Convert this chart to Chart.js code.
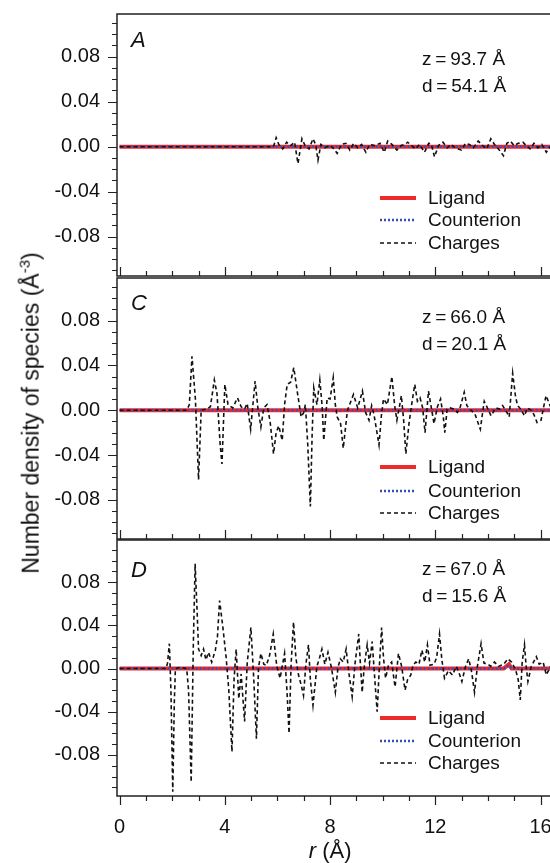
<!DOCTYPE html>
<html>
<head>
<meta charset="utf-8">
<script src="https://cdn.jsdelivr.net/npm/chart.js@4.4.0/dist/chart.umd.min.js"></script>
<style>
  html, body { margin: 0; padding: 0; background: #fff; }
  body { width: 550px; height: 863px; position: relative; overflow: hidden; font-family: "Liberation Sans", Arial, sans-serif; }
  .painel { position: absolute; left: 0; width: 550px; }
  #tituloY { position: absolute; left: 30px; top: 413px; transform: translate(-50%, -50%) rotate(-90deg);
             white-space: nowrap; font-size: 23px; color: #111; }
  #tituloY sup { font-size: 15px; }
</style>
</head>
<body>
<div class="painel" style="top:-6px"><canvas id="chartA" width="550" height="302"></canvas></div>
<div class="painel" style="top:258px"><canvas id="chartC" width="550" height="301"></canvas></div>
<div class="painel" style="top:520px"><canvas id="chartD" width="550" height="343"></canvas></div>
<div id="tituloY">Number density of species (Å<sup>-3</sup>)</div>

<script>
// ---------------- dados ----------------
var seriesNames = ['Ligand', 'Counterion', 'Charges'];
var xTickLabels = [0, 4, 8, 12, 16];
var yTickLabels = [-0.08, -0.04, 0.00, 0.04, 0.08];

// painel A  (z = 93.7 Å, d = 54.1 Å)
var rA = [0, 5.85, 5.95, 6.05, 6.2, 6.35, 6.5, 6.65, 6.78, 6.93, 7.05, 7.2, 7.35, 7.45, 7.54, 7.65, 7.8, 8.0, 8.15, 8.27,
  8.43, 8.6, 8.75, 8.9, 9.05, 9.2, 9.36, 9.5, 9.7, 9.9, 10.06, 10.19, 10.35, 10.54, 10.7, 10.85, 10.95, 11.1, 11.25, 11.4,
  11.59, 11.75, 11.85, 11.97, 12.12, 12.29, 12.45, 12.6, 12.75, 12.99, 13.15, 13.3, 13.45, 13.63, 13.8, 13.95, 14.11, 14.25,
  14.4, 14.59, 14.72, 14.85, 15.0, 15.15, 15.33, 15.45, 15.6, 15.75, 15.9, 16.05, 16.22, 16.4];
var chargesA = [0, 0, 0.008, 0.002, -0.002, 0.004, 0.001, 0.004, -0.015, 0.007, 0.001, -0.002, 0.007, 0.002, -0.012, 0.002, -0.001, 0.001, -0.002, -0.006,
  0.002, 0.003, -0.003, 0.003, -0.001, 0.002, -0.005, 0.002, 0.001, 0.003, -0.005, 0.005, 0.002, -0.003, 0.001, 0.002, 0.004, 0.001, -0.002, 0.002,
  -0.005, 0.003, 0.002, -0.009, 0.001, 0.004, -0.001, 0.002, -0.001, -0.003, 0.003, 0.002, -0.001, 0.005, 0.001, -0.002, 0.007, 0.002,
  -0.002, -0.008, 0.003, 0.005, 0.001, 0.003, 0.004, 0.001, -0.002, 0.003, -0.001, 0.002, -0.005, 0.001];
var rLigA = [0, 16.4];
var ligandA = [0, 0];
var counterionA = [0, 0];

// painel C  (z = 66.0 Å, d = 20.1 Å)
var rC = [0, 2.55, 2.65, 2.75, 2.88, 3.0, 3.1, 3.3, 3.45, 3.6, 3.7, 3.82, 3.89, 4.0, 4.12, 4.3, 4.48, 4.62, 4.75, 4.85,
  4.98, 5.15, 5.25, 5.37, 5.48, 5.6, 5.72, 5.85, 5.95, 6.05, 6.18, 6.27, 6.37, 6.5, 6.62, 6.75, 6.9, 7.0, 7.06, 7.15,
  7.25, 7.32, 7.38, 7.5, 7.61, 7.7, 7.76, 7.89, 8.0, 8.12, 8.2, 8.27, 8.4, 8.5, 8.66, 8.89, 9.05, 9.23, 9.35, 9.48,
  9.58, 9.67, 9.86, 9.95, 10.03, 10.18, 10.35, 10.45, 10.54, 10.65, 10.71, 10.8, 10.88, 11.0, 11.1, 11.22, 11.32, 11.42, 11.52, 11.61,
  11.74, 11.85, 11.95, 12.08, 12.2, 12.3, 12.36, 12.45, 12.56, 12.7, 12.84, 12.95, 13.1, 13.2, 13.35, 13.5, 13.71, 13.86, 14.0, 14.12,
  14.3, 14.45, 14.56, 14.72, 14.81, 14.94, 15.05, 15.13, 15.25, 15.39, 15.5, 15.64, 15.75, 15.87, 16.02, 16.12, 16.21, 16.4];
var chargesC = [0, 0, 0.005, 0.048, 0.01, -0.062, 0, 0.001, 0.003, 0.027, 0.015, -0.03, -0.048, 0.023, 0.005, 0.002, 0.011, 0.003, 0.001, 0.006,
  -0.017, 0.026, 0.003, -0.015, 0.002, 0.005, -0.01, -0.039, -0.02, -0.014, -0.027, 0.005, 0.023, 0.025, 0.038, 0.017, -0.006, -0.002, 0.005, -0.03,
  -0.086, -0.02, 0.02, 0.005, 0.027, 0.003, -0.027, 0.011, 0.01, 0.029, 0.005, -0.006, -0.012, -0.034, 0, 0.014, 0.002, 0.017, -0.002, -0.009,
  0.004, -0.004, -0.031, -0.005, 0.01, 0.005, 0.03, 0.005, -0.009, 0.005, 0.013, -0.01, -0.039, -0.012, 0.005, 0.023, 0.008, 0.011, 0.002, -0.02,
  0.017, 0.002, -0.012, 0.003, 0.01, -0.005, -0.02, 0.001, 0.002, 0.001, -0.002, 0.003, 0.016, 0.004, 0, -0.003, -0.017, 0.008, 0.001, -0.005,
  0.002, 0.001, 0.004, -0.002, -0.006, 0.033, 0.012, 0.004, 0.001, -0.005, 0.002, 0, -0.004, -0.011, -0.009, 0.003, 0.013, 0.002];
var rLigC = [0, 16.4];
var ligandC = [0, 0];
var counterionC = [0, 0];

// painel D  (z = 67.0 Å, d = 15.6 Å)
var rD = [0, 1.76, 1.82, 1.89, 1.95, 2.02, 2.08, 2.12, 2.3, 2.55, 2.62, 2.72, 2.8, 2.87, 2.95, 3.0, 3.1, 3.19, 3.28, 3.38,
  3.5, 3.64, 3.72, 3.8, 3.93, 4.05, 4.15, 4.27, 4.35, 4.43, 4.53, 4.62, 4.75, 4.85, 4.99, 5.1, 5.2, 5.28, 5.37, 5.48,
  5.58, 5.7, 5.84, 5.97, 6.1, 6.18, 6.27, 6.36, 6.44, 6.52, 6.61, 6.7, 6.8, 6.9, 6.99, 7.08, 7.18, 7.25, 7.35, 7.5,
  7.6, 7.69, 7.8, 7.92, 8.05, 8.2, 8.3, 8.39, 8.5, 8.61, 8.72, 8.84, 8.95, 9.09, 9.15, 9.22, 9.3, 9.41, 9.5, 9.6,
  9.7, 9.79, 9.88, 9.96, 10.03, 10.11, 10.22, 10.34, 10.47, 10.6, 10.72, 10.85, 10.95, 11.07, 11.15, 11.26, 11.38, 11.49, 11.6, 11.7,
  11.8, 11.95, 12.05, 12.16, 12.25, 12.35, 12.5, 12.65, 12.8, 12.9, 13.01, 13.15, 13.27, 13.38, 13.49, 13.6, 13.74, 13.85, 14.0, 14.1,
  14.25, 14.4, 14.6, 14.76, 14.9, 15.05, 15.15, 15.23, 15.3, 15.39, 15.45, 15.52, 15.65, 15.84, 15.95, 16.1, 16.22, 16.4];
var chargesD = [0, 0, 0.005, 0.023, -0.02, -0.114, -0.03, 0, 0.001, 0, -0.02, -0.105, 0.02, 0.097, 0.05, 0.018, 0.012, 0.018, 0.008, 0.015,
  0.006, 0.017, 0.03, 0.063, 0.037, 0.01, -0.02, -0.077, -0.01, 0.018, -0.028, -0.005, -0.049, 0.005, 0.038, -0.01, -0.065, 0.001, 0.014, 0.004,
  0.003, 0.012, 0.032, 0.003, -0.009, 0.002, 0.014, -0.02, -0.06, 0.005, 0.043, 0.01, -0.006, -0.015, -0.025, 0.004, 0.022, -0.01, -0.034, 0.002,
  0.01, 0.018, 0.004, 0.015, 0.001, -0.022, 0.001, 0.009, 0.006, 0.018, -0.005, -0.026, 0.005, 0.032, 0.005, -0.022, 0.002, 0.022, 0.005, 0.025,
  -0.01, -0.04, 0.005, 0.038, 0.01, -0.009, 0.003, 0.006, -0.017, 0.014, 0.002, -0.02, -0.01, -0.006, 0.003, 0.006, 0.004, 0.017, 0.006, 0.022,
  0.003, 0.004, 0.01, 0.032, 0.008, -0.009, -0.002, -0.006, 0.002, -0.004, -0.012, 0.002, 0.009, -0.003, -0.022, 0.002, 0.023, 0.005, 0.004, 0.002,
  0.006, 0.002, 0.004, 0.009, 0.006, -0.001, -0.01, -0.029, 0.005, 0.022, 0.003, -0.012, 0.002, 0.011, 0.004, 0.006, -0.006, 0.003];
var rLigD = [0, 14.6, 14.7, 14.8, 14.9, 16.4];
var ligandD = [0, 0, 0.002, 0.004, 0, 0];
var counterionD = [0, 0, 0.001, 0.003, 0, 0];

// ---------------- estilo ----------------
var fonte = '"Liberation Sans", Arial, sans-serif';
var corTexto = '#111';
var corLigand = '#ee2b2b';
var corCounterion = '#3a4db5';
var corCharges = '#111';

function pontos(xs, ys) {
  var lista = [];
  for (var i = 0; i < xs.length; i++) {
    lista.push({ x: xs[i], y: ys[i] });
  }
  return lista;
}

// moldura, ticks menores/maiores, letra do painel, textos e legenda
var pluginMoldura = {
  id: 'moldura',
  afterDraw: function (chart, args, opts) {
    var ctx = chart.ctx;
    var a = chart.chartArea;
    var sx = chart.scales.x;
    var sy = chart.scales.y;
    ctx.save();
    ctx.strokeStyle = '#222';
    ctx.lineWidth = 1.5;
    ctx.beginPath();
    ctx.moveTo(a.right + 5, a.top);
    ctx.lineTo(a.left, a.top);
    ctx.lineTo(a.left, a.bottom);
    ctx.lineTo(a.right + 5, a.bottom);
    ctx.stroke();

    ctx.lineWidth = 1.2;
    ctx.beginPath();
    // ticks do eixo y (para fora)
    for (var k = -11; k <= 11; k++) {
      var v = k / 100;
      var y = Math.round(sy.getPixelForValue(v)) + 0.5;
      var len = (k % 4 === 0) ? 9 : 5;
      ctx.moveTo(a.left - len, y);
      ctx.lineTo(a.left, y);
    }
    // ticks do eixo x
    for (var j = 0; j <= 16; j++) {
      var x = Math.round(sx.getPixelForValue(j)) + 0.5;
      var lx = (j % 4 === 0) ? 9 : 5;
      var dir = opts.ticksFora ? 1 : -1;
      ctx.moveTo(x, a.bottom);
      ctx.lineTo(x, a.bottom + dir * lx);
    }
    ctx.stroke();

    // letra do painel
    ctx.fillStyle = corTexto;
    ctx.textBaseline = 'middle';
    ctx.textAlign = 'left';
    ctx.font = 'italic 22px ' + fonte;
    ctx.fillText(opts.letra, a.left + 14, a.top + opts.yLetra);

    // z e d
    ctx.font = '19px ' + fonte;
    ctx.fillText(opts.textoZ, 422, a.top + opts.yTexto);
    ctx.fillText(opts.textoD, 422, a.top + opts.yTexto + 27);

    // legenda
    var ds = chart.data.datasets;
    for (var i = 0; i < ds.length; i++) {
      var yy = a.top + opts.yLegenda[i];
      ctx.save();
      ctx.strokeStyle = ds[i].borderColor;
      ctx.lineWidth = ds[i].borderWidth;
      ctx.setLineDash(ds[i].borderDash || []);
      ctx.beginPath();
      ctx.moveTo(380, yy);
      ctx.lineTo(416, yy);
      ctx.stroke();
      ctx.restore();
      ctx.fillText(ds[i].label, 428, yy + 1);
    }

    // titulo do eixo x
    if (opts.tituloX) {
      var cx = sx.getPixelForValue(8);
      var ty = 332;
      var resto = ' (Å)';
      ctx.font = 'italic 22px ' + fonte;
      var wr = ctx.measureText('r').width;
      ctx.font = '22px ' + fonte;
      var w2 = ctx.measureText(resto).width;
      var x0 = cx - (wr + w2) / 2;
      ctx.font = 'italic 22px ' + fonte;
      ctx.fillText('r', x0, ty);
      ctx.font = '22px ' + fonte;
      ctx.fillText(resto, x0 + wr, ty);
    }
    ctx.restore();
  }
};

function criarPainel(id, dadosPainel, opts) {
  var datasets = [
    {
      label: seriesNames[0],
      data: pontos(dadosPainel.rLig, dadosPainel.ligand),
      borderColor: corLigand,
      borderWidth: 4,
      order: 2
    },
    {
      label: seriesNames[1],
      data: pontos(dadosPainel.rLig, dadosPainel.counterion),
      borderColor: corCounterion,
      borderWidth: 2.5,
      borderDash: [2, 2],
      order: 1
    },
    {
      label: seriesNames[2],
      data: pontos(dadosPainel.r, dadosPainel.charges),
      borderColor: corCharges,
      borderWidth: 1.6,
      borderDash: [4, 3],
      order: 0
    }
  ];
  datasets.forEach(function (d) {
    d.showLine = true;
    d.pointRadius = 0;
    d.fill = false;
    d.tension = 0;
  });

  var alturaX = opts.mostrarX ? 67 : 0;

  var config = {
    type: 'scatter',
    data: { datasets: datasets },
    options: {
      responsive: false,
      maintainAspectRatio: false,
      animation: false,
      layout: { padding: { top: 20, bottom: opts.mostrarX ? 0 : 20, left: 0, right: 0 } },
      plugins: {
        legend: { display: false },
        tooltip: { enabled: false },
        moldura: opts
      },
      scales: {
        x: {
          type: 'linear',
          min: -0.1,
          max: 16.36,
          display: opts.mostrarX,
          grid: { display: false, drawTicks: false },
          border: { display: false },
          ticks: { color: corTexto, font: { family: fonte, size: 20 }, padding: 19, maxRotation: 0, autoSkip: false },
          afterBuildTicks: function (s) { s.ticks = xTickLabels.map(function (v) { return { value: v }; }); },
          afterFit: function (s) { s.height = alturaX; s.paddingLeft = 0; s.paddingRight = 0; }
        },
        y: {
          min: opts.yMin,
          max: opts.yMax,
          grid: { display: false, drawTicks: false },
          border: { display: false },
          ticks: {
            color: corTexto, font: { family: fonte, size: 20 }, padding: 17,
            callback: function (v) { return v.toFixed(2); }
          },
          afterBuildTicks: function (s) { s.ticks = yTickLabels.map(function (v) { return { value: v }; }); },
          afterFit: function (s) { s.width = 117; s.paddingTop = 0; s.paddingBottom = 0; }
        }
      }
    },
    plugins: [pluginMoldura]
  };
  return new Chart(document.getElementById(id), config);
}

criarPainel('chartA',
  { r: rA, charges: chargesA, rLig: rLigA, ligand: ligandA, counterion: counterionA },
  { letra: 'A', textoZ: 'z\u2009=\u200993.7 Å', textoD: 'd\u2009=\u200954.1 Å', yLetra: 27, yTexto: 46,
    yLegenda: [184, 206, 229], yMin: -0.115, yMax: 0.118, mostrarX: false, ticksFora: false });

criarPainel('chartC',
  { r: rC, charges: chargesC, rLig: rLigC, ligand: ligandC, counterion: counterionC },
  { letra: 'C', textoZ: 'z\u2009=\u200966.0 Å', textoD: 'd\u2009=\u200920.1 Å', yLetra: 26, yTexto: 40,
    yLegenda: [189, 213, 235], yMin: -0.115, yMax: 0.118, mostrarX: false, ticksFora: false });

criarPainel('chartD',
  { r: rD, charges: chargesD, rLig: rLigD, ligand: ligandD, counterion: counterionD },
  { letra: 'D', textoZ: 'z\u2009=\u200967.0 Å', textoD: 'd\u2009=\u200915.6 Å', yLetra: 31, yTexto: 30,
    yLegenda: [178, 201, 223], yMin: -0.118, yMax: 0.119, mostrarX: true, ticksFora: true, tituloX: true });
</script>
</body>
</html>
